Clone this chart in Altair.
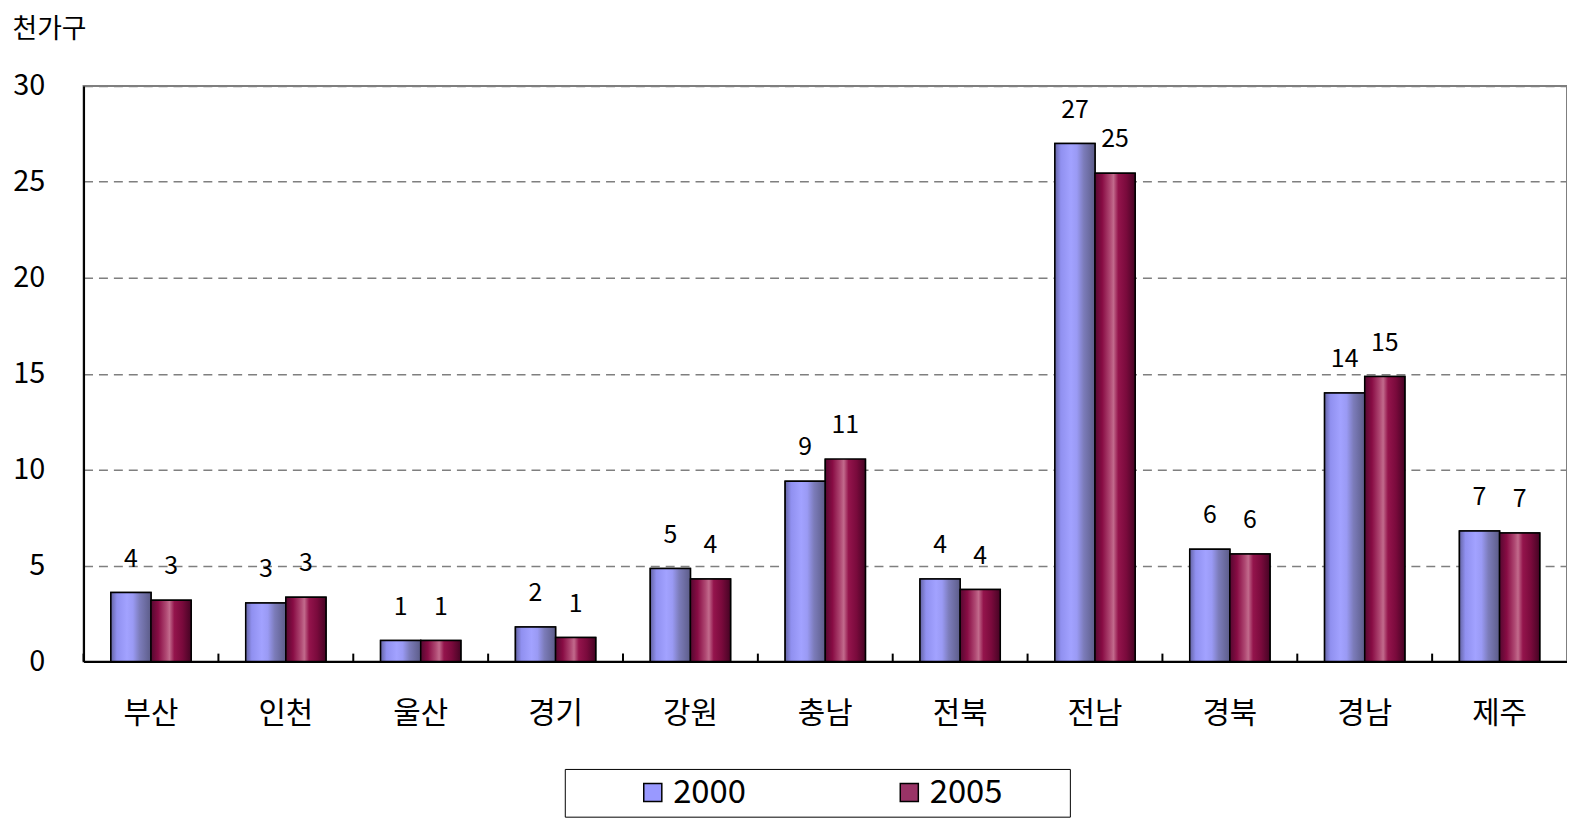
import altair as alt
import pandas as pd

categories = ["부산", "인천", "울산", "경기", "강원", "충남", "전북", "전남", "경북", "경남", "제주"]
years = ["2000", "2005"]
values_2000 = [3.6, 3.05, 1.1, 1.8, 4.85, 9.4, 4.3, 27.0, 5.85, 14.0, 6.8]
values_2005 = [3.2, 3.35, 1.1, 1.25, 4.3, 10.55, 3.75, 25.45, 5.6, 14.85, 6.7]
y_ticks = [0, 5, 10, 15, 20, 25, 30]
unit_label = "천가구"

rows = []
for i, c in enumerate(categories):
    rows.append({"region": c, "year": "2000", "value": values_2000[i]})
    rows.append({"region": c, "year": "2005", "value": values_2005[i]})
df = pd.DataFrame(rows)
ticks_df = pd.DataFrame({"region": categories})

FONT = "Noto Sans CJK KR"
W, H = 1492, 579

x_enc = alt.X(
    "region:N", sort=categories,
    scale=alt.Scale(paddingInner=0, paddingOuter=0),
    axis=alt.Axis(title=None, labelAngle=0, labelFontSize=30, labelPadding=37,
                  ticks=False, domainColor="black", domainWidth=2, labelColor="black",
                  labelFont=FONT),
)
xoff_enc = alt.XOffset("year:N", sort=years,
                       scale=alt.Scale(domain=years, paddingInner=0, paddingOuter=0.68))
y_enc = alt.Y(
    "value:Q", scale=alt.Scale(domain=[0, 30], nice=False),
    axis=alt.Axis(values=y_ticks, title=unit_label, titleAngle=0, titleAlign="left",
                  titleBaseline="middle", titleX=-72, titleY=-57, titleFontSize=27,
                  titleFontWeight="normal", titleFont=FONT, titleColor="black",
                  labelFontSize=29, labelPadding=39, labelFont=FONT, labelColor="black",
                  ticks=False, grid=True, gridDash=[9, 6], gridColor="#7f7f7f",
                  gridWidth=1.5, domainColor="black", domainWidth=2),
)

grad_2000 = alt.Gradient(
    gradient="linear", x1=0, x2=1, y1=0, y2=0,
    stops=[
        alt.GradientStop(color="#6464a4", offset=0),
        alt.GradientStop(color="#9090f0", offset=0.15),
        alt.GradientStop(color="#a2a2ff", offset=0.4),
        alt.GradientStop(color="#9a9af4", offset=0.55),
        alt.GradientStop(color="#7c7cba", offset=0.72),
        alt.GradientStop(color="#5c5c88", offset=1),
    ],
)
grad_2005 = alt.Gradient(
    gradient="linear", x1=0, x2=1, y1=0, y2=0,
    stops=[
        alt.GradientStop(color="#560830", offset=0),
        alt.GradientStop(color="#880c44", offset=0.18),
        alt.GradientStop(color="#b04a74", offset=0.38),
        alt.GradientStop(color="#c26a8c", offset=0.46),
        alt.GradientStop(color="#94144c", offset=0.58),
        alt.GradientStop(color="#7a0a3c", offset=0.78),
        alt.GradientStop(color="#460424", offset=1),
    ],
)

base = alt.Chart(df)

legend_bars = base.mark_bar(stroke="black", strokeWidth=1.5).encode(
    x=x_enc, xOffset=xoff_enc, y=y_enc,
    color=alt.Color(
        "year:N", sort=years,
        scale=alt.Scale(domain=years, range=["#9999ff", "#993366"]),
        legend=alt.Legend(
            title="\u2007", titleOrient="right", titlePadding=61, titleFontSize=33,
            orient="none", legendX=484, legendY=687,
            direction="horizontal", columns=2, symbolType="square",
            symbolSize=330, symbolStrokeColor="black", symbolStrokeWidth=1.5,
            labelFontSize=33, labelFont=FONT, labelColor="black", labelLimit=400,
            strokeColor="black", fillColor="white", padding=7,
            symbolOffset=65, labelOffset=4, columnPadding=82,
        ),
    ),
)

bars_2000 = base.transform_filter(alt.datum.year == "2000").mark_bar(
    color=grad_2000, stroke="black", strokeWidth=1.5
).encode(x=x_enc, xOffset=xoff_enc, y=y_enc)

bars_2005 = base.transform_filter(alt.datum.year == "2005").mark_bar(
    color=grad_2005, stroke="black", strokeWidth=1.5
).encode(x=x_enc, xOffset=xoff_enc, y=y_enc)

labels = base.mark_text(baseline="alphabetic", dy=-26, fontSize=25, font=FONT,
                        color="black").encode(
    x=x_enc, xOffset=xoff_enc, y=y_enc,
    text=alt.Text("value:Q", format=".0f"),
)

tick_marks = alt.Chart(ticks_df).mark_rule(color="black", strokeWidth=2).encode(
    x=alt.X("region:N", sort=categories, bandPosition=0),
    y=alt.value(H - 8), y2=alt.value(H),
)

chart = alt.layer(legend_bars, bars_2000, bars_2005, labels, tick_marks).properties(
    width=W, height=H,
    padding={"left": 4, "top": 5, "right": 0, "bottom": 0},
    background="white",
).configure_view(stroke="#7f7f7f", strokeWidth=2)

chart.save("out.html", embed_options={"renderer": "svg", "actions": False})
